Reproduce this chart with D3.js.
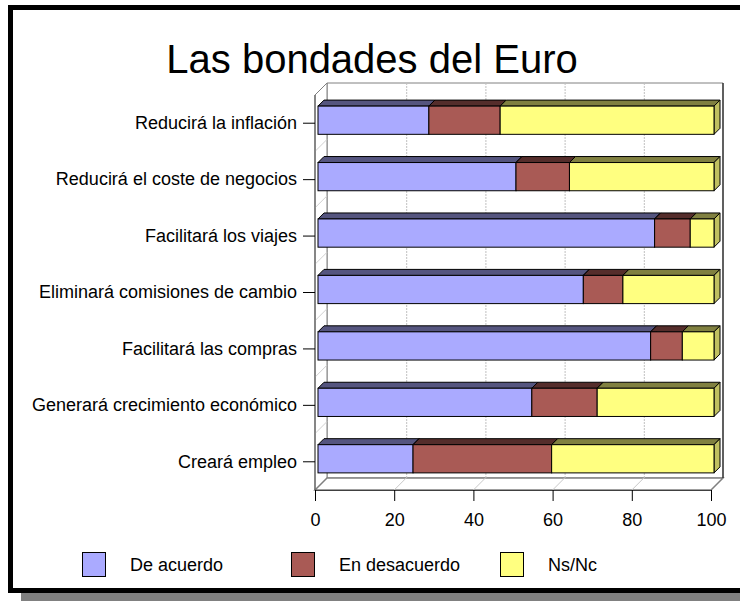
<!DOCTYPE html>
<html>
<head>
<meta charset="utf-8">
<script src="https://cdn.jsdelivr.net/npm/d3@7/dist/d3.min.js"></script>
<style>
html,body{margin:0;padding:0;background:#fff;}
svg{display:block;font-family:"Liberation Sans",Arial,sans-serif;}
</style>
</head>
<body>
<svg id="chart" width="740" height="601"></svg>
<script>
const title = "Las bondades del Euro";
const categories = [
  "Reducirá la inflación",
  "Reducirá el coste de negocios",
  "Facilitará los viajes",
  "Eliminará comisiones de cambio",
  "Facilitará las compras",
  "Generará crecimiento económico",
  "Creará empleo"
];
const seriesNames = ["De acuerdo", "En desacuerdo", "Ns/Nc"];
const deAcuerdo    = [28, 50, 85, 67, 84, 54, 24];
const enDesacuerdo = [18, 13.5, 9, 10, 8, 16.5, 35];
const nsNc         = [54, 36.5, 6, 23, 8, 29.5, 41];
const xTicks = [0, 20, 40, 60, 80, 100];

const colors = [
  {front:"#AAAAFF", top:"#55557F", side:"#8080BF"},
  {front:"#A95A55", top:"#552D2B", side:"#7F4440"},
  {front:"#FFFF80", top:"#808040", side:"#C0C060"}
];

const svg = d3.select("#chart");

// outer frame with shadow
svg.append("rect").attr("x",21).attr("y",593).attr("width",740).attr("height",10).attr("fill","#808080");
svg.append("rect").attr("x",10.5).attr("y",7.5).attr("width",760).attr("height",583)
  .attr("fill","#fff").attr("stroke","#000").attr("stroke-width",5);

// title
svg.append("text").attr("x",372).attr("y",73).attr("text-anchor","middle")
  .attr("font-size",40).attr("fill","#000").text(title);

// scales
const x = d3.scaleLinear().domain([0,100]).range([315,711]);
const y = d3.scaleBand().domain(categories).range([95,490]).paddingInner(0.5).paddingOuter(0.25);
const D = 12;          // wall depth
const bOff = 3, bD = 6; // bar offset and bar depth

const y0 = 95, y1 = 490, x0 = x(0), x1 = x(100);

// walls
const walls = svg.append("g");
walls.append("polygon") // back wall
  .attr("points", [[x0+D,y0-D],[x1+D,y0-D],[x1+D,y1-D],[x0+D,y1-D]].join(" "))
  .attr("fill","#fff").attr("stroke","#808080").attr("stroke-width",1);
walls.append("polygon") // left wall
  .attr("points", [[x0,y0],[x0+D,y0-D],[x0+D,y1-D],[x0,y1]].join(" "))
  .attr("fill","#fff").attr("stroke","#808080").attr("stroke-width",1);
walls.append("polygon") // floor
  .attr("points", [[x0,y1],[x0+D,y1-D],[x1+D,y1-D],[x1,y1]].join(" "))
  .attr("fill","#fff").attr("stroke","#808080").attr("stroke-width",1.5);

// gridlines on back wall and floor
xTicks.filter(t => t>0 && t<100).forEach(t => {
  walls.append("line").attr("x1",x(t)+D+0.5).attr("x2",x(t)+D+0.5).attr("y1",y0-D).attr("y2",y1-D)
    .attr("stroke","#c0c0c0").attr("stroke-dasharray","2,1");
  walls.append("line").attr("x1",x(t)).attr("x2",x(t)+D).attr("y1",y1).attr("y2",y1-D)
    .attr("stroke","#c8c8c8");
});
// left wall category dividers
const step = y.step();
categories.forEach((c,i) => {
  if (i===0) return;
  const yy = y(c) - step*0.25;
  walls.append("line").attr("x1",x0).attr("x2",x0+D).attr("y1",yy).attr("y2",yy-D).attr("stroke","#d0d0d0");
});
walls.append("line").attr("x1",x1+D).attr("x2",x1+D).attr("y1",y0-D).attr("y2",y1-D).attr("stroke","#202020").attr("stroke-width",1.2);
walls.append("line").attr("x1",x0).attr("x2",x0).attr("y1",y0).attr("y2",y1).attr("stroke","#606060").attr("stroke-width",1.2);

// bars
const values = [deAcuerdo, enDesacuerdo, nsNc];
const barG = svg.append("g");
categories.forEach((c,i) => {
  let cum = 0;
  const top = y(c) - bOff, h = y.bandwidth();
  values.forEach((arr,s) => {
    const v = arr[i];
    const xa = x(cum) + bOff, xb = x(cum + v) + bOff;
    cum += v;
    const col = colors[s];
    barG.append("polygon")
      .attr("points", [[xa,top],[xa+bD,top-bD],[xb+bD,top-bD],[xb,top]].join(" "))
      .attr("fill",col.top).attr("stroke","#000").attr("stroke-width",1).attr("stroke-linejoin","round");
    barG.append("polygon")
      .attr("points", [[xb,top],[xb+bD,top-bD],[xb+bD,top+h-bD],[xb,top+h]].join(" "))
      .attr("fill",col.side).attr("stroke","#000").attr("stroke-width",1).attr("stroke-linejoin","round");
    barG.append("rect").attr("x",xa).attr("y",top).attr("width",xb-xa).attr("height",h)
      .attr("fill",col.front).attr("stroke","#000").attr("stroke-width",1);
  });
});

// axes
const xAxis = svg.append("g").attr("transform",`translate(0,${y1})`)
  .call(d3.axisBottom(x).tickValues(xTicks).tickSize(11).tickPadding(12).tickSizeOuter(0));
xAxis.select(".domain").attr("stroke","#404040").attr("stroke-width",1.2);
xAxis.selectAll(".tick line").attr("stroke","#000");
xAxis.selectAll("text").attr("font-size",18).attr("font-family","Liberation Sans, Arial, sans-serif").attr("fill","#000");

const yAxis = svg.append("g").attr("transform",`translate(${x0},0)`)
  .call(d3.axisLeft(y).tickSize(12).tickPadding(6).tickSizeOuter(0));
yAxis.select(".domain").remove();
yAxis.selectAll(".tick line").attr("stroke","#000");
yAxis.selectAll("text").attr("font-size",18).attr("font-family","Liberation Sans, Arial, sans-serif").attr("fill","#000");

// legend
const legX = [82, 291, 500];
const leg = svg.append("g");
seriesNames.forEach((n,s) => {
  leg.append("rect").attr("x",legX[s]+0.5).attr("y",552.5).attr("width",23).attr("height",24)
    .attr("fill",colors[s].front).attr("stroke","#000").attr("stroke-width",1);
  leg.append("text").attr("x",legX[s]+48).attr("y",571).attr("font-size",18).attr("fill","#000").text(n);
});
</script>
</body>
</html>
